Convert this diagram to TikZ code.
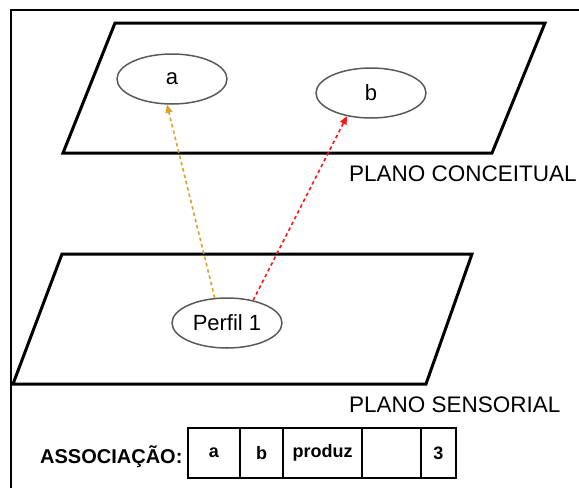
\documentclass[tikz,border=0pt]{standalone}
\usepackage{fontspec}
\setmainfont{Liberation Sans}
\usetikzlibrary{shapes.geometric,arrows.meta}

\definecolor{linkgold}{RGB}{214,164,40}
\definecolor{linkred}{RGB}{255,20,20}
\definecolor{ringgray}{RGB}{90,90,90}

\begin{document}
\begin{tikzpicture}[x=1pt,y=-1pt,
  plane/.style={line width=3pt,line join=miter},
  concept/.style={ellipse,draw=ringgray,line width=1.5pt,minimum width=110pt,minimum height=50pt,inner sep=0pt,font=\fontsize{22}{24}\selectfont},
  planelabel/.style={anchor=base west,inner sep=0pt,font=\fontsize{22.5}{25}\selectfont},
  link/.style={line width=1.6pt,dash pattern=on 3.5pt off 3pt,-{Triangle[length=8pt,width=7pt]}},
  cell/.style={draw,line width=2pt,minimum height=50pt,inner sep=0pt,anchor=west,font=\bfseries\fontsize{18}{20}\selectfont},
]
\useasboundingbox (0,0) rectangle (579,488);
\fill[white] (0,0) rectangle (579,488);

% outer frame (open to the right and bottom)
\draw[line width=2pt] (11,488) -- (11,10) -- (579,10);

% conceptual plane
\draw[plane] (115,23) -- (545,23) -- (492,153) -- (63,153) -- cycle;
\node[concept] (a) at (172,79) {a};
\node[concept] (b) at (371,93) {b};
\node[planelabel] (conceitual) at (349,181) {PLANO CONCEITUAL};

% sensorial plane
\draw[plane] (62,254) -- (472,254) -- (426,384) -- (13,384) -- cycle;
\node[concept] (p) at (227,323) {Perfil 1};
\node[planelabel] (sensorial) at (349,412) {PLANO SENSORIAL};

% links from the profile to the concepts
\draw[link,linkgold] (p.116) -- (a.259);
\draw[link,linkred] (p.41) -- (b.224);

% association record
\node[anchor=base west,inner sep=0pt,font=\bfseries\fontsize{20}{22}\selectfont] (assoc) at (40,463) {ASSOCIAÇÃO:};
\node[cell,minimum width=52pt] (ca) at (187,453) {a};
\node[cell,minimum width=43pt] (cb) at (239,453) {b};
\node[cell,minimum width=79pt] (cverb) at (282,453) {produz};
\node[cell,minimum width=59pt] (cblank) at (361,453) {};
\node[cell,minimum width=35pt] (ccount) at (420,453) {3};
\end{tikzpicture}
\end{document}
